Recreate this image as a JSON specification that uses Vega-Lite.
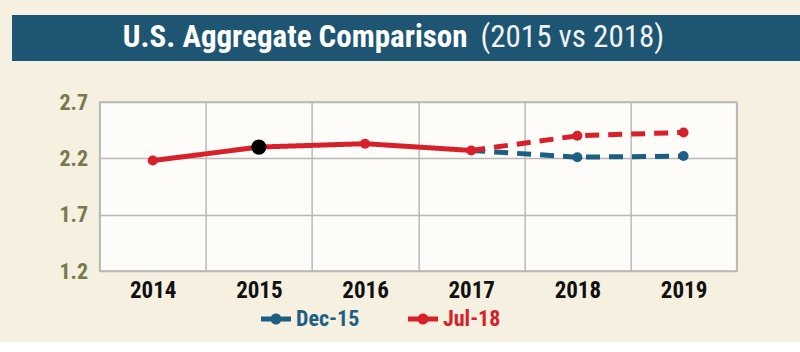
{
  "$schema": "https://vega.github.io/schema/vega-lite/v6.json",
  "background": "#f5f0df",
  "padding": {"left": 12, "top": 15, "right": 0, "bottom": 12},
  "config": {
    "font": "Liberation Sans Narrow, Roboto Condensed, DejaVu Sans Condensed, sans-serif",
    "view": {"stroke": null}
  },
  "center": true,
  "spacing": 29,
  "vconcat": [
    {
      "width": 813,
      "height": 46,
      "view": {"fill": "#1d5572", "stroke": null},
      "data": {"values": [{"a": "U.S. Aggregate Comparison", "b": "(2015 vs 2018)"}]},
      "layer": [
        {
          "mark": {"type": "text", "align": "right", "baseline": "middle", "dx": 49, "fontSize": 31, "fontWeight": "bold", "color": "#ffffff"},
          "encoding": {"text": {"field": "a"}}
        },
        {
          "mark": {"type": "text", "align": "left", "baseline": "middle", "dx": 62, "fontSize": 31, "fontWeight": "normal", "color": "#f2f2f2"},
          "encoding": {"text": {"field": "b"}}
        }
      ]
    },
    {
      "width": 637,
      "height": 169,
      "view": {"fill": "#fdfcf9", "stroke": "#b8b8b8", "strokeWidth": 1.5},
      "data": {
        "values": [
          {"year": "2015", "series": "Dec-15", "kind": "marker", "value": 2.30},
          {"year": "2017", "series": "Dec-15", "kind": "forecast", "value": 2.27},
          {"year": "2018", "series": "Dec-15", "kind": "forecast", "value": 2.21},
          {"year": "2019", "series": "Dec-15", "kind": "forecast", "value": 2.22},
          {"year": "2014", "series": "Jul-18", "kind": "actual", "value": 2.18},
          {"year": "2015", "series": "Jul-18", "kind": "actual", "value": 2.30},
          {"year": "2016", "series": "Jul-18", "kind": "actual", "value": 2.33},
          {"year": "2017", "series": "Jul-18", "kind": "actual", "value": 2.27},
          {"year": "2017", "series": "Jul-18", "kind": "forecast", "value": 2.27},
          {"year": "2018", "series": "Jul-18", "kind": "forecast", "value": 2.40},
          {"year": "2019", "series": "Jul-18", "kind": "forecast", "value": 2.43}
        ]
      },
      "encoding": {
        "x": {
          "field": "year",
          "type": "ordinal",
          "bandPosition": 0.5,
          "scale": {"type": "band", "paddingInner": 0, "paddingOuter": 0, "domain": ["2014", "2015", "2016", "2017", "2018", "2019"]},
          "axis": {
            "title": null,
            "labelAngle": 0,
            "tickBand": "extent",
            "ticks": false,
            "domain": false,
            "grid": true,
            "gridColor": "#b8b8b8",
            "gridWidth": 1.5,
            "labelFontSize": 23,
            "labelFontWeight": "bold",
            "labelColor": "#111111",
            "labelPadding": 8
          }
        },
        "y": {
          "field": "value",
          "type": "quantitative",
          "scale": {"domain": [1.2, 2.7], "zero": false, "nice": false},
          "axis": {
            "title": null,
            "values": [1.2, 1.7, 2.2, 2.7],
            "format": ".1f",
            "ticks": false,
            "domain": false,
            "grid": true,
            "gridColor": "#b8b8b8",
            "gridWidth": 1.5,
            "labelFontSize": 22,
            "labelFontWeight": "bold",
            "labelColor": "#77784e",
            "labelPadding": 12
          }
        },
        "color": {
          "field": "series",
          "type": "nominal",
          "scale": {"domain": ["Dec-15", "Jul-18"], "range": ["#1c5f82", "#d7202a"]},
          "legend": {
            "title": null,
            "orient": "none",
            "legendX": 253,
            "legendY": 293,
            "direction": "horizontal",
            "symbolType": "M-1.5,-0.25H1.5V0.25H-1.5Z M0,-0.55A0.55,0.55 0 1,1 0,0.55A0.55,0.55 0 1,1 0,-0.55Z",
            "symbolSize": 400,
            "symbolStrokeWidth": 0,
            "labelFontSize": 22,
            "labelFontWeight": "bold",
            "labelOffset": 9,
            "columnPadding": 48,
            "encode": {
              "symbols": {"update": {"fill": {"scale": "color", "field": "value"}, "stroke": {"value": "transparent"}}},
              "labels": {"update": {"fill": {"signal": "datum.value === 'Dec-15' ? '#1c5f82' : '#d7202a'"}}}
            }
          }
        }
      },
      "layer": [
        {
          "transform": [{"filter": "datum.kind !== 'marker'"}],
          "mark": {"type": "line", "strokeWidth": 5},
          "encoding": {
            "strokeDash": {"field": "kind", "type": "nominal", "scale": {"domain": ["actual", "forecast"], "range": [[1, 0], [14, 9]]}, "legend": null}
          }
        },
        {
          "transform": [{"filter": "datum.kind === 'actual' || (datum.kind === 'forecast' && datum.year !== '2017')"}],
          "mark": {"type": "point", "filled": true, "opacity": 1, "size": 100}
        },
        {
          "transform": [{"filter": "datum.kind === 'marker'"}],
          "mark": {"type": "point", "filled": true, "opacity": 1, "size": 230},
          "encoding": {"color": {"value": "#000000"}}
        }
      ]
    }
  ]
}
